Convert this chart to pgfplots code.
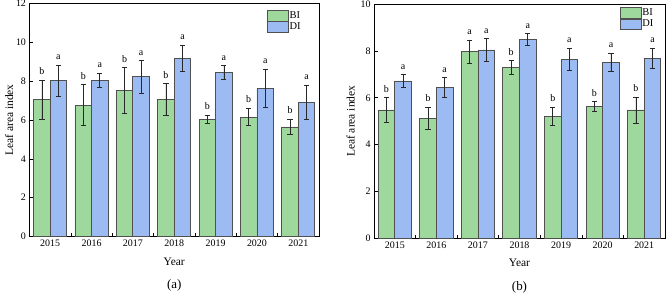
\documentclass[border=0pt]{standalone}
\usepackage{fontspec}
\setmainfont{Liberation Serif}
\usepackage{pgfplots}
\pgfplotsset{compat=1.18}
\usepackage{pgfplotstable}
\definecolor{cBI}{RGB}{158,216,156}
\definecolor{cDI}{RGB}{156,187,242}
\definecolor{cedge}{RGB}{80,80,80}
\definecolor{cerr}{RGB}{40,40,40}

% panel (a)
\pgfplotstableread{
x y e l
0 7.05 1.00 b
1 6.76 1.06 b
2 7.52 1.17 b
3 7.05 0.82 b
4 6.04 0.20 b
5 6.15 0.45 b
6 5.64 0.40 b
}\aBI
\pgfplotstableread{
x y e l
0 8.02 0.79 a
1 8.05 0.35 a
2 8.22 0.83 a
3 9.16 0.68 a
4 8.44 0.35 a
5 7.63 1.00 a
6 6.91 0.88 a
}\aDI
% panel (b)
\pgfplotstableread{
x y e l
0 5.48 0.52 b
1 5.12 0.47 b
2 7.96 0.51 a
3 7.29 0.30 b
4 5.21 0.38 b
5 5.63 0.21 b
6 5.48 0.55 b
}\bBI
\pgfplotstableread{
x y e l
0 6.72 0.27 a
1 6.44 0.42 a
2 8.04 0.48 a
3 8.48 0.25 a
4 7.63 0.48 a
5 7.52 0.38 a
6 7.69 0.42 a
}\bDI

\pgfplotsset{
  lai/.style={
    scale only axis, clip=false,
    xmin=-0.5, xmax=6.5, ymin=0,
    xtick={0.5,1.5,2.5,3.5,4.5,5.5}, xticklabels={,,,,,},
    extra x ticks={0,1,2,3,4,5,6},
    extra x tick labels={2015,2016,2017,2018,2019,2020,2021},
    extra x tick style={major tick length=0pt},
    tick pos=left, tick align=inside,
    major tick length=3.5bp,
    tick style={black, line width=0.6bp},
    axis line style={black, line width=0.8bp},
    ticklabel style={font=\fontsize{10}{12}\selectfont},
    /pgf/number format/assume math mode=true,
    label style={font=\fontsize{11.5}{13}\selectfont},
    xlabel={Year}, ylabel={Leaf area index},
    legend style={draw=none, fill=none, inner sep=0pt, outer sep=0pt,
      nodes={inner sep=1bp, font=\fontsize{10.5}{12}\selectfont},
      anchor=north west, legend cell align=left,
      /tikz/every even column/.append style={column sep=2bp}},
    legend image code/.code={\draw[#1] (0bp,-5.25bp) rectangle (21bp,5.25bp);},
  },
  bars/.style={forget plot, ybar, bar width=0.4, bar shift=0, draw=cedge, line width=0.8bp,
    error bars/y dir=both, error bars/y explicit,
    error bars/error bar style={cerr, line width=0.7bp},
    error bars/error mark options={rotate=90, mark size=2.6bp, cerr, line width=0.7bp}},
  letters/.style={forget plot, draw=none, mark=none, nodes near coords, point meta=explicit symbolic,
    nodes near coords style={anchor=base, yshift=5.5bp, inner sep=0pt, text=black,
      font=\fontsize{10}{12}\selectfont}},
}

\begin{document}
\begin{tikzpicture}
\useasboundingbox (0,0) rectangle (668bp,294bp);
% ---------- (a)
\begin{axis}[lai, at={(29.5bp,57.5bp)}, anchor=south west,
  width=289.5bp, height=233bp, ymax=12, ytick={0,2,...,12},
  xlabel style={at={(axis description cs:0.5,-0.109)}, anchor=center},
  ylabel style={at={(axis description cs:-0.070,0.5)}, anchor=center},
  legend style={at={(axis description cs:0.820,0.972)}}]
\addplot[fill=cBI, bars] table[x expr=\thisrow{x}-0.2, y=y, y error=e] {\aBI};
\addplot[fill=cDI, bars] table[x expr=\thisrow{x}+0.2, y=y, y error=e] {\aDI};
\addplot[letters] table[x expr=\thisrow{x}-0.2, y expr=\thisrow{y}+\thisrow{e}, meta=l] {\aBI};
\addplot[letters] table[x expr=\thisrow{x}+0.2, y expr=\thisrow{y}+\thisrow{e}, meta=l] {\aDI};
\addlegendimage{fill=cBI, draw=cedge, line width=0.8bp}
\addlegendentry{BI}
\addlegendimage{fill=cDI, draw=cedge, line width=0.8bp}
\addlegendentry{DI}
\node[font=\fontsize{13}{15}\selectfont] at (axis description cs:0.5,-0.208) {(a)};
\end{axis}
% ---------- (b)
\begin{axis}[lai, at={(374bp,55.5bp)}, anchor=south west,
  width=291bp, height=234.5bp, ymax=10, ytick={0,2,...,10},
  xlabel style={at={(axis description cs:0.5,-0.104)}, anchor=center},
  ylabel style={at={(axis description cs:-0.080,0.5)}, anchor=center},
  legend style={at={(axis description cs:0.844,0.986)}}]
\addplot[fill=cBI, bars] table[x expr=\thisrow{x}-0.2, y=y, y error=e] {\bBI};
\addplot[fill=cDI, bars] table[x expr=\thisrow{x}+0.2, y=y, y error=e] {\bDI};
\addplot[letters] table[x expr=\thisrow{x}-0.2, y expr=\thisrow{y}+\thisrow{e}, meta=l] {\bBI};
\addplot[letters] table[x expr=\thisrow{x}+0.2, y expr=\thisrow{y}+\thisrow{e}, meta=l] {\bDI};
\addlegendimage{fill=cBI, draw=cedge, line width=0.8bp}
\addlegendentry{BI}
\addlegendimage{fill=cDI, draw=cedge, line width=0.8bp}
\addlegendentry{DI}
\node[font=\fontsize{13}{15}\selectfont] at (axis description cs:0.5,-0.207) {(b)};
\end{axis}
\end{tikzpicture}
\end{document}
